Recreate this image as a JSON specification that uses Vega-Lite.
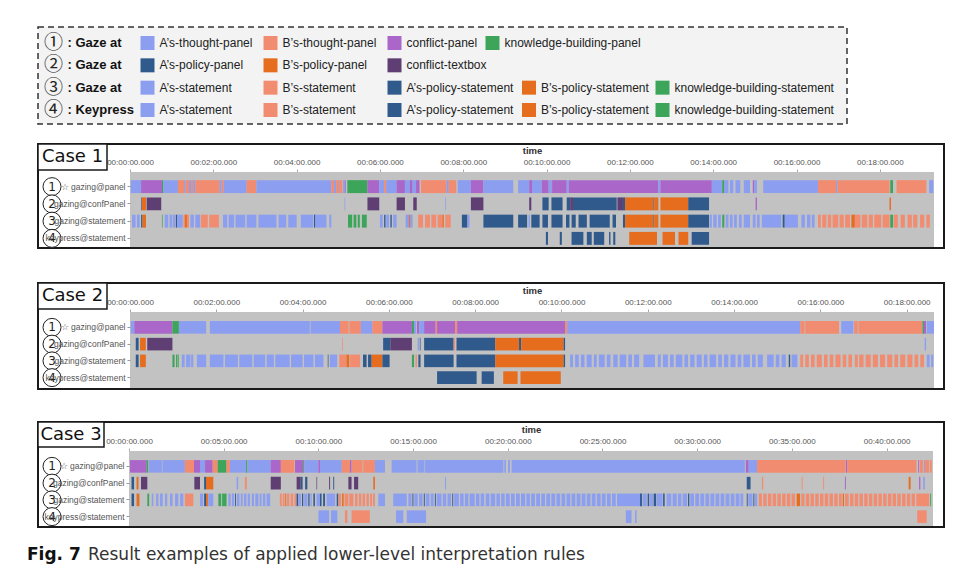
{
  "$schema": "https://vega.github.io/schema/vega-lite/v6.json",
  "background": "white",
  "padding": {"left": 27, "top": 26, "right": 2, "bottom": 2},
  "datasets": {
    "legend": [
      {"row": 1, "col": 0, "num": "①", "label": ": Gaze at"},
      {"row": 2, "col": 0, "num": "②", "label": ": Gaze at"},
      {"row": 3, "col": 0, "num": "③", "label": ": Gaze at"},
      {"row": 4, "col": 0, "num": "④", "label": ": Keypress"},
      {"row": 1, "col": 1, "c": "A", "label": "A’s-thought-panel"},
      {"row": 1, "col": 2, "c": "B", "label": "B’s-thought-panel"},
      {"row": 1, "col": 3, "c": "C", "label": "conflict-panel"},
      {"row": 1, "col": 4, "c": "K", "label": "knowledge-building-panel"},
      {"row": 2, "col": 1, "c": "AP", "label": "A’s-policy-panel"},
      {"row": 2, "col": 2, "c": "BP", "label": "B’s-policy-panel"},
      {"row": 2, "col": 3, "c": "CT", "label": "conflict-textbox"},
      {"row": 3, "col": 1, "c": "A", "label": "A’s-statement"},
      {"row": 3, "col": 2, "c": "B", "label": "B’s-statement"},
      {"row": 3, "col": 3, "c": "AP", "label": "A’s-policy-statement"},
      {"row": 3, "col": 4, "c": "BP", "label": "B’s-policy-statement"},
      {"row": 3, "col": 5, "c": "K", "label": "knowledge-building-statement"},
      {"row": 4, "col": 1, "c": "A", "label": "A’s-statement"},
      {"row": 4, "col": 2, "c": "B", "label": "B’s-statement"},
      {"row": 4, "col": 3, "c": "AP", "label": "A’s-policy-statement"},
      {"row": 4, "col": 4, "c": "BP", "label": "B’s-policy-statement"},
      {"row": 4, "col": 5, "c": "K", "label": "knowledge-building-statement"}
    ],
    "nums": [
      {"r": 1, "n": "1", "k": "o"},
      {"r": 2, "n": "2", "k": "o"},
      {"r": 3, "n": "3", "k": "o"},
      {"r": 4, "n": "4", "k": "o"}
    ],
    "c1": [
      {"r":1,"s":1,"e":16,"c":"A"},{"r":1,"s":16,"e":46,"c":"C"},{"r":1,"s":46,"e":48,"c":"K"},{"r":1,"s":48,"e":69,"c":"A"},{"r":1,"s":69,"e":78,"c":"B"},{"r":1,"s":78,"e":80,"c":"A"},{"r":1,"s":80,"e":85,"c":"B"},{"r":1,"s":85,"e":88,"c":"A"},{"r":1,"s":88,"e":91,"c":"B"},{"r":1,"s":91,"e":94,"c":"A"},{"r":1,"s":94,"e":129,"c":"B"},{"r":1,"s":129,"e":132,"c":"A"},{"r":1,"s":132,"e":135,"c":"B"},{"r":1,"s":135,"e":168,"c":"A"},{"r":1,"s":168,"e":182,"c":"B"},{"r":1,"s":182,"e":290,"c":"A"},{"r":1,"s":290,"e":294,"c":"B"},{"r":1,"s":294,"e":297,"c":"A"},{"r":1,"s":297,"e":301,"c":"B"},{"r":1,"s":301,"e":302,"c":"A"},{"r":1,"s":302,"e":306,"c":"B"},{"r":1,"s":307,"e":310,"c":"A"},{"r":1,"s":310,"e":311,"c":"C"},{"r":1,"s":313,"e":342,"c":"K"},{"r":1,"s":342,"e":359,"c":"C"},{"r":1,"s":359,"e":366,"c":"A"},{"r":1,"s":366,"e":369,"c":"B"},{"r":1,"s":369,"e":384,"c":"A"},{"r":1,"s":384,"e":396,"c":"C"},{"r":1,"s":396,"e":403,"c":"A"},{"r":1,"s":403,"e":407,"c":"C"},{"r":1,"s":407,"e":412,"c":"A"},{"r":1,"s":412,"e":417,"c":"C"},{"r":1,"s":419,"e":456,"c":"B"},{"r":1,"s":456,"e":459,"c":"A"},{"r":1,"s":459,"e":470,"c":"B"},{"r":1,"s":472,"e":491,"c":"A"},{"r":1,"s":491,"e":509,"c":"C"},{"r":1,"s":509,"e":552,"c":"A"},{"r":1,"s":559,"e":575,"c":"A"},{"r":1,"s":575,"e":579,"c":"C"},{"r":1,"s":579,"e":593,"c":"A"},{"r":1,"s":593,"e":603,"c":"C"},{"r":1,"s":603,"e":608,"c":"A"},{"r":1,"s":608,"e":629,"c":"C"},{"r":1,"s":629,"e":632,"c":"A"},{"r":1,"s":632,"e":761,"c":"C"},{"r":1,"s":761,"e":764,"c":"A"},{"r":1,"s":764,"e":838,"c":"C"},{"r":1,"s":838,"e":853,"c":"A"},{"r":1,"s":853,"e":856,"c":"K"},{"r":1,"s":856,"e":862,"c":"A"},{"r":1,"s":864,"e":869,"c":"A"},{"r":1,"s":872,"e":879,"c":"A"},{"r":1,"s":884,"e":893,"c":"A"},{"r":1,"s":897,"e":899,"c":"C"},{"r":1,"s":899,"e":903,"c":"A"},{"r":1,"s":912,"e":991,"c":"A"},{"r":1,"s":991,"e":1017,"c":"B"},{"r":1,"s":1017,"e":1019,"c":"A"},{"r":1,"s":1019,"e":1094,"c":"B"},{"r":1,"s":1095,"e":1099,"c":"K"},{"r":1,"s":1104,"e":1147,"c":"B"},{"r":1,"s":1151,"e":1157,"c":"A"},
      {"r":2,"s":16,"e":17,"c":"AP"},{"r":2,"s":17,"e":23,"c":"BP"},{"r":2,"s":24,"e":45,"c":"CT"},{"r":2,"s":309,"e":310,"c":"A"},{"r":2,"s":342,"e":359,"c":"CT"},{"r":2,"s":384,"e":396,"c":"CT"},{"r":2,"s":408,"e":413,"c":"CT"},{"r":2,"s":454,"e":455,"c":"A"},{"r":2,"s":491,"e":509,"c":"CT"},{"r":2,"s":575,"e":578,"c":"CT"},{"r":2,"s":594,"e":603,"c":"AP"},{"r":2,"s":607,"e":623,"c":"AP"},{"r":2,"s":629,"e":634,"c":"AP"},{"r":2,"s":634,"e":638,"c":"CT"},{"r":2,"s":638,"e":701,"c":"AP"},{"r":2,"s":702,"e":710,"c":"CT"},{"r":2,"s":710,"e":713,"c":"AP"},{"r":2,"s":713,"e":754,"c":"BP"},{"r":2,"s":754,"e":755,"c":"AP"},{"r":2,"s":755,"e":761,"c":"BP"},{"r":2,"s":764,"e":804,"c":"BP"},{"r":2,"s":804,"e":834,"c":"AP"},{"r":2,"s":901,"e":903,"c":"C"},{"r":2,"s":1094,"e":1096,"c":"BP"},
      {"r":3,"s":3,"e":8,"c":"A"},{"r":3,"s":10,"e":14,"c":"A"},{"r":3,"s":16,"e":18,"c":"AP"},{"r":3,"s":18,"e":23,"c":"BP"},{"r":3,"s":46,"e":47,"c":"K"},{"r":3,"s":50,"e":55,"c":"A"},{"r":3,"s":57,"e":61,"c":"A"},{"r":3,"s":62,"e":65,"c":"A"},{"r":3,"s":66,"e":68,"c":"AP"},{"r":3,"s":68,"e":76,"c":"A"},{"r":3,"s":77,"e":79,"c":"B"},{"r":3,"s":79,"e":82,"c":"BP"},{"r":3,"s":82,"e":85,"c":"B"},{"r":3,"s":87,"e":92,"c":"A"},{"r":3,"s":94,"e":101,"c":"A"},{"r":3,"s":102,"e":112,"c":"B"},{"r":3,"s":114,"e":128,"c":"B"},{"r":3,"s":134,"e":140,"c":"A"},{"r":3,"s":142,"e":150,"c":"A"},{"r":3,"s":152,"e":166,"c":"A"},{"r":3,"s":168,"e":182,"c":"A"},{"r":3,"s":185,"e":211,"c":"A"},{"r":3,"s":214,"e":225,"c":"A"},{"r":3,"s":228,"e":240,"c":"A"},{"r":3,"s":246,"e":264,"c":"A"},{"r":3,"s":265,"e":267,"c":"AP"},{"r":3,"s":267,"e":283,"c":"A"},{"r":3,"s":287,"e":290,"c":"A"},{"r":3,"s":314,"e":320,"c":"K"},{"r":3,"s":322,"e":326,"c":"K"},{"r":3,"s":328,"e":331,"c":"K"},{"r":3,"s":334,"e":341,"c":"K"},{"r":3,"s":360,"e":364,"c":"A"},{"r":3,"s":366,"e":368,"c":"AP"},{"r":3,"s":369,"e":373,"c":"A"},{"r":3,"s":375,"e":377,"c":"AP"},{"r":3,"s":379,"e":384,"c":"A"},{"r":3,"s":397,"e":402,"c":"A"},{"r":3,"s":402,"e":404,"c":"BP"},{"r":3,"s":404,"e":407,"c":"A"},{"r":3,"s":415,"e":422,"c":"B"},{"r":3,"s":425,"e":432,"c":"B"},{"r":3,"s":434,"e":441,"c":"B"},{"r":3,"s":443,"e":450,"c":"B"},{"r":3,"s":450,"e":452,"c":"BP"},{"r":3,"s":454,"e":462,"c":"B"},{"r":3,"s":478,"e":486,"c":"AP"},{"r":3,"s":486,"e":489,"c":"A"},{"r":3,"s":509,"e":552,"c":"AP"},{"r":3,"s":559,"e":572,"c":"AP"},{"r":3,"s":574,"e":576,"c":"A"},{"r":3,"s":578,"e":590,"c":"AP"},{"r":3,"s":594,"e":602,"c":"AP"},{"r":3,"s":607,"e":623,"c":"AP"},{"r":3,"s":628,"e":633,"c":"AP"},{"r":3,"s":636,"e":642,"c":"AP"},{"r":3,"s":646,"e":658,"c":"AP"},{"r":3,"s":662,"e":691,"c":"AP"},{"r":3,"s":695,"e":700,"c":"AP"},{"r":3,"s":710,"e":713,"c":"AP"},{"r":3,"s":713,"e":754,"c":"BP"},{"r":3,"s":754,"e":755,"c":"AP"},{"r":3,"s":755,"e":761,"c":"BP"},{"r":3,"s":764,"e":804,"c":"BP"},{"r":3,"s":804,"e":834,"c":"AP"},{"r":3,"s":835,"e":838,"c":"A"},{"r":3,"s":840,"e":845,"c":"A"},{"r":3,"s":847,"e":851,"c":"A"},{"r":3,"s":853,"e":856,"c":"K"},{"r":3,"s":858,"e":862,"c":"A"},{"r":3,"s":864,"e":868,"c":"A"},{"r":3,"s":870,"e":874,"c":"A"},{"r":3,"s":877,"e":881,"c":"A"},{"r":3,"s":884,"e":893,"c":"A"},{"r":3,"s":897,"e":901,"c":"A"},{"r":3,"s":903,"e":907,"c":"A"},{"r":3,"s":910,"e":938,"c":"A"},{"r":3,"s":940,"e":943,"c":"AP"},{"r":3,"s":943,"e":962,"c":"A"},{"r":3,"s":967,"e":972,"c":"A"},{"r":3,"s":975,"e":980,"c":"A"},{"r":3,"s":982,"e":986,"c":"A"},{"r":3,"s":991,"e":995,"c":"B"},{"r":3,"s":997,"e":1003,"c":"B"},{"r":3,"s":1005,"e":1010,"c":"B"},{"r":3,"s":1012,"e":1020,"c":"B"},{"r":3,"s":1022,"e":1028,"c":"B"},{"r":3,"s":1030,"e":1037,"c":"B"},{"r":3,"s":1039,"e":1044,"c":"BP"},{"r":3,"s":1044,"e":1052,"c":"B"},{"r":3,"s":1054,"e":1062,"c":"B"},{"r":3,"s":1064,"e":1070,"c":"B"},{"r":3,"s":1072,"e":1082,"c":"B"},{"r":3,"s":1084,"e":1094,"c":"B"},{"r":3,"s":1095,"e":1099,"c":"K"},{"r":3,"s":1100,"e":1106,"c":"B"},{"r":3,"s":1110,"e":1116,"c":"B"},{"r":3,"s":1120,"e":1126,"c":"B"},{"r":3,"s":1128,"e":1134,"c":"B"},{"r":3,"s":1138,"e":1144,"c":"B"},{"r":3,"s":1147,"e":1152,"c":"B"},
      {"r":4,"s":599,"e":602,"c":"AP"},{"r":4,"s":619,"e":622,"c":"AP"},{"r":4,"s":636,"e":653,"c":"AP"},{"r":4,"s":658,"e":665,"c":"AP"},{"r":4,"s":668,"e":683,"c":"AP"},{"r":4,"s":690,"e":692,"c":"AP"},{"r":4,"s":696,"e":699,"c":"AP"},{"r":4,"s":719,"e":759,"c":"BP"},{"r":4,"s":767,"e":785,"c":"BP"},{"r":4,"s":790,"e":804,"c":"BP"},{"r":4,"s":809,"e":834,"c":"AP"}
    ],
    "c2": [
      {"r":1,"s":1,"e":6,"c":"A"},{"r":1,"s":6,"e":59,"c":"C"},{"r":1,"s":59,"e":68,"c":"K"},{"r":1,"s":68,"e":106,"c":"A"},{"r":1,"s":111,"e":250,"c":"A"},{"r":1,"s":251,"e":292,"c":"A"},{"r":1,"s":292,"e":304,"c":"B"},{"r":1,"s":305,"e":321,"c":"B"},{"r":1,"s":321,"e":337,"c":"A"},{"r":1,"s":337,"e":351,"c":"B"},{"r":1,"s":351,"e":392,"c":"C"},{"r":1,"s":392,"e":395,"c":"K"},{"r":1,"s":395,"e":398,"c":"A"},{"r":1,"s":399,"e":402,"c":"C"},{"r":1,"s":402,"e":409,"c":"A"},{"r":1,"s":409,"e":425,"c":"C"},{"r":1,"s":425,"e":427,"c":"B"},{"r":1,"s":427,"e":452,"c":"C"},{"r":1,"s":452,"e":455,"c":"B"},{"r":1,"s":455,"e":605,"c":"C"},{"r":1,"s":605,"e":608,"c":"B"},{"r":1,"s":608,"e":932,"c":"A"},{"r":1,"s":932,"e":938,"c":"B"},{"r":1,"s":939,"e":986,"c":"B"},{"r":1,"s":989,"e":1006,"c":"A"},{"r":1,"s":1007,"e":1012,"c":"B"},{"r":1,"s":1013,"e":1102,"c":"B"},{"r":1,"s":1102,"e":1104,"c":"K"},{"r":1,"s":1104,"e":1107,"c":"C"},{"r":1,"s":1108,"e":1118,"c":"A"},
      {"r":2,"s":8,"e":12,"c":"AP"},{"r":2,"s":14,"e":22,"c":"BP"},{"r":2,"s":24,"e":59,"c":"CT"},{"r":2,"s":295,"e":296,"c":"B"},{"r":2,"s":352,"e":362,"c":"AP"},{"r":2,"s":362,"e":392,"c":"CT"},{"r":2,"s":400,"e":402,"c":"A"},{"r":2,"s":403,"e":404,"c":"AP"},{"r":2,"s":409,"e":450,"c":"AP"},{"r":2,"s":450,"e":452,"c":"B"},{"r":2,"s":454,"e":508,"c":"AP"},{"r":2,"s":508,"e":541,"c":"BP"},{"r":2,"s":541,"e":544,"c":"AP"},{"r":2,"s":544,"e":603,"c":"BP"},{"r":2,"s":603,"e":605,"c":"AP"},{"r":2,"s":1105,"e":1107,"c":"A"},
      {"r":3,"s":8,"e":12,"c":"AP"},{"r":3,"s":14,"e":22,"c":"BP"},{"r":3,"s":59,"e":62,"c":"K"},{"r":3,"s":64,"e":66,"c":"K"},{"r":3,"s":67,"e":68,"c":"K"},{"r":3,"s":72,"e":76,"c":"A"},{"r":3,"s":78,"e":84,"c":"A"},{"r":3,"s":85,"e":88,"c":"A"},{"r":3,"s":93,"e":106,"c":"A"},{"r":3,"s":111,"e":130,"c":"A"},{"r":3,"s":132,"e":150,"c":"A"},{"r":3,"s":152,"e":170,"c":"A"},{"r":3,"s":172,"e":188,"c":"A"},{"r":3,"s":190,"e":200,"c":"A"},{"r":3,"s":202,"e":222,"c":"A"},{"r":3,"s":224,"e":240,"c":"A"},{"r":3,"s":242,"e":255,"c":"A"},{"r":3,"s":257,"e":269,"c":"A"},{"r":3,"s":275,"e":276,"c":"AP"},{"r":3,"s":278,"e":288,"c":"A"},{"r":3,"s":291,"e":301,"c":"B"},{"r":3,"s":301,"e":305,"c":"BP"},{"r":3,"s":306,"e":320,"c":"B"},{"r":3,"s":324,"e":329,"c":"AP"},{"r":3,"s":331,"e":336,"c":"AP"},{"r":3,"s":336,"e":351,"c":"BP"},{"r":3,"s":351,"e":361,"c":"AP"},{"r":3,"s":392,"e":395,"c":"K"},{"r":3,"s":397,"e":399,"c":"B"},{"r":3,"s":401,"e":404,"c":"AP"},{"r":3,"s":409,"e":450,"c":"AP"},{"r":3,"s":454,"e":508,"c":"AP"},{"r":3,"s":508,"e":603,"c":"BP"},{"r":3,"s":603,"e":605,"c":"AP"},{"r":3,"s":612,"e":616,"c":"A"},{"r":3,"s":619,"e":624,"c":"A"},{"r":3,"s":627,"e":632,"c":"A"},{"r":3,"s":635,"e":642,"c":"A"},{"r":3,"s":645,"e":649,"c":"A"},{"r":3,"s":652,"e":660,"c":"A"},{"r":3,"s":663,"e":668,"c":"A"},{"r":3,"s":672,"e":678,"c":"A"},{"r":3,"s":681,"e":690,"c":"A"},{"r":3,"s":693,"e":698,"c":"A"},{"r":3,"s":701,"e":708,"c":"A"},{"r":3,"s":714,"e":730,"c":"A"},{"r":3,"s":734,"e":738,"c":"A"},{"r":3,"s":741,"e":748,"c":"A"},{"r":3,"s":751,"e":756,"c":"A"},{"r":3,"s":759,"e":768,"c":"A"},{"r":3,"s":771,"e":776,"c":"A"},{"r":3,"s":779,"e":785,"c":"A"},{"r":3,"s":788,"e":795,"c":"A"},{"r":3,"s":798,"e":803,"c":"A"},{"r":3,"s":806,"e":815,"c":"A"},{"r":3,"s":818,"e":823,"c":"A"},{"r":3,"s":826,"e":832,"c":"A"},{"r":3,"s":835,"e":842,"c":"A"},{"r":3,"s":845,"e":850,"c":"A"},{"r":3,"s":853,"e":862,"c":"A"},{"r":3,"s":865,"e":870,"c":"A"},{"r":3,"s":873,"e":880,"c":"A"},{"r":3,"s":886,"e":895,"c":"A"},{"r":3,"s":898,"e":903,"c":"A"},{"r":3,"s":906,"e":912,"c":"A"},{"r":3,"s":916,"e":918,"c":"AP"},{"r":3,"s":920,"e":928,"c":"A"},{"r":3,"s":932,"e":936,"c":"B"},{"r":3,"s":939,"e":944,"c":"B"},{"r":3,"s":947,"e":952,"c":"B"},{"r":3,"s":955,"e":962,"c":"B"},{"r":3,"s":965,"e":970,"c":"B"},{"r":3,"s":973,"e":978,"c":"B"},{"r":3,"s":981,"e":988,"c":"B"},{"r":3,"s":991,"e":996,"c":"B"},{"r":3,"s":999,"e":1004,"c":"B"},{"r":3,"s":1008,"e":1012,"c":"B"},{"r":3,"s":1014,"e":1020,"c":"B"},{"r":3,"s":1023,"e":1030,"c":"B"},{"r":3,"s":1033,"e":1040,"c":"B"},{"r":3,"s":1043,"e":1050,"c":"B"},{"r":3,"s":1053,"e":1060,"c":"B"},{"r":3,"s":1063,"e":1068,"c":"B"},{"r":3,"s":1071,"e":1078,"c":"B"},{"r":3,"s":1081,"e":1088,"c":"B"},{"r":3,"s":1091,"e":1096,"c":"B"},{"r":3,"s":1099,"e":1104,"c":"B"},{"r":3,"s":1108,"e":1112,"c":"A"},{"r":3,"s":1114,"e":1117,"c":"A"},
      {"r":4,"s":427,"e":482,"c":"AP"},{"r":4,"s":489,"e":506,"c":"AP"},{"r":4,"s":519,"e":539,"c":"BP"},{"r":4,"s":543,"e":599,"c":"BP"}
    ],
    "c3": [
      {"r":1,"s":3,"e":56,"c":"C"},{"r":1,"s":56,"e":61,"c":"K"},{"r":1,"s":63,"e":104,"c":"A"},{"r":1,"s":106,"e":177,"c":"A"},{"r":1,"s":177,"e":206,"c":"B"},{"r":1,"s":206,"e":225,"c":"C"},{"r":1,"s":225,"e":241,"c":"A"},{"r":1,"s":241,"e":265,"c":"C"},{"r":1,"s":265,"e":281,"c":"B"},{"r":1,"s":281,"e":309,"c":"K"},{"r":1,"s":309,"e":320,"c":"B"},{"r":1,"s":320,"e":371,"c":"A"},{"r":1,"s":371,"e":375,"c":"K"},{"r":1,"s":375,"e":449,"c":"A"},{"r":1,"s":449,"e":481,"c":"C"},{"r":1,"s":481,"e":524,"c":"B"},{"r":1,"s":526,"e":552,"c":"C"},{"r":1,"s":552,"e":555,"c":"K"},{"r":1,"s":555,"e":600,"c":"A"},{"r":1,"s":600,"e":605,"c":"C"},{"r":1,"s":605,"e":674,"c":"A"},{"r":1,"s":674,"e":700,"c":"B"},{"r":1,"s":700,"e":705,"c":"C"},{"r":1,"s":705,"e":740,"c":"B"},{"r":1,"s":742,"e":779,"c":"B"},{"r":1,"s":779,"e":811,"c":"A"},{"r":1,"s":832,"e":911,"c":"A"},{"r":1,"s":914,"e":936,"c":"A"},{"r":1,"s":938,"e":1186,"c":"A"},{"r":1,"s":1189,"e":1194,"c":"A"},{"r":1,"s":1201,"e":1207,"c":"A"},{"r":1,"s":1212,"e":1951,"c":"A"},{"r":1,"s":1954,"e":1963,"c":"C"},{"r":1,"s":1963,"e":1990,"c":"A"},{"r":1,"s":1990,"e":2270,"c":"B"},{"r":1,"s":2271,"e":2275,"c":"C"},{"r":1,"s":2275,"e":2495,"c":"B"},{"r":1,"s":2500,"e":2503,"c":"C"},{"r":1,"s":2505,"e":2515,"c":"B"},{"r":1,"s":2518,"e":2520,"c":"C"},{"r":1,"s":2522,"e":2535,"c":"B"},{"r":1,"s":2537,"e":2543,"c":"B"},
      {"r":2,"s":8,"e":16,"c":"AP"},{"r":2,"s":24,"e":30,"c":"BP"},{"r":2,"s":38,"e":58,"c":"CT"},{"r":2,"s":207,"e":225,"c":"CT"},{"r":2,"s":238,"e":244,"c":"AP"},{"r":2,"s":244,"e":267,"c":"BP"},{"r":2,"s":341,"e":346,"c":"A"},{"r":2,"s":367,"e":373,"c":"B"},{"r":2,"s":449,"e":481,"c":"CT"},{"r":2,"s":531,"e":544,"c":"CT"},{"r":2,"s":544,"e":550,"c":"AP"},{"r":2,"s":558,"e":565,"c":"AP"},{"r":2,"s":594,"e":596,"c":"CT"},{"r":2,"s":634,"e":637,"c":"CT"},{"r":2,"s":647,"e":650,"c":"AP"},{"r":2,"s":695,"e":705,"c":"CT"},{"r":2,"s":713,"e":726,"c":"CT"},{"r":2,"s":774,"e":779,"c":"BP"},{"r":2,"s":1001,"e":1004,"c":"A"},{"r":2,"s":1957,"e":1969,"c":"AP"},{"r":2,"s":2005,"e":2009,"c":"B"},{"r":2,"s":2131,"e":2134,"c":"B"},{"r":2,"s":2199,"e":2202,"c":"B"},{"r":2,"s":2268,"e":2271,"c":"C"},{"r":2,"s":2470,"e":2476,"c":"BP"},{"r":2,"s":2503,"e":2507,"c":"C"},{"r":2,"s":2516,"e":2521,"c":"A"},
      {"r":3,"s":8,"e":16,"c":"AP"},{"r":3,"s":24,"e":33,"c":"BP"},{"r":3,"s":58,"e":64,"c":"K"},{"r":3,"s":72,"e":77,"c":"A"},{"r":3,"s":86,"e":93,"c":"A"},{"r":3,"s":98,"e":107,"c":"A"},{"r":3,"s":114,"e":121,"c":"A"},{"r":3,"s":130,"e":138,"c":"A"},{"r":3,"s":146,"e":156,"c":"A"},{"r":3,"s":162,"e":172,"c":"A"},{"r":3,"s":177,"e":204,"c":"B"},{"r":3,"s":225,"e":235,"c":"A"},{"r":3,"s":238,"e":244,"c":"AP"},{"r":3,"s":244,"e":250,"c":"BP"},{"r":3,"s":251,"e":267,"c":"A"},{"r":3,"s":283,"e":292,"c":"K"},{"r":3,"s":295,"e":309,"c":"K"},{"r":3,"s":315,"e":322,"c":"A"},{"r":3,"s":326,"e":333,"c":"A"},{"r":3,"s":336,"e":339,"c":"AP"},{"r":3,"s":342,"e":350,"c":"A"},{"r":3,"s":354,"e":360,"c":"A"},{"r":3,"s":364,"e":372,"c":"A"},{"r":3,"s":376,"e":383,"c":"A"},{"r":3,"s":389,"e":396,"c":"A"},{"r":3,"s":400,"e":410,"c":"A"},{"r":3,"s":414,"e":420,"c":"A"},{"r":3,"s":424,"e":432,"c":"A"},{"r":3,"s":436,"e":447,"c":"A"},{"r":3,"s":478,"e":484,"c":"B"},{"r":3,"s":487,"e":493,"c":"B"},{"r":3,"s":495,"e":498,"c":"BP"},{"r":3,"s":500,"e":508,"c":"B"},{"r":3,"s":512,"e":520,"c":"B"},{"r":3,"s":524,"e":531,"c":"B"},{"r":3,"s":531,"e":536,"c":"AP"},{"r":3,"s":536,"e":545,"c":"A"},{"r":3,"s":548,"e":552,"c":"AP"},{"r":3,"s":555,"e":565,"c":"A"},{"r":3,"s":568,"e":572,"c":"AP"},{"r":3,"s":575,"e":579,"c":"A"},{"r":3,"s":584,"e":589,"c":"AP"},{"r":3,"s":594,"e":605,"c":"A"},{"r":3,"s":605,"e":610,"c":"AP"},{"r":3,"s":615,"e":621,"c":"AP"},{"r":3,"s":626,"e":653,"c":"A"},{"r":3,"s":658,"e":663,"c":"AP"},{"r":3,"s":664,"e":672,"c":"B"},{"r":3,"s":675,"e":680,"c":"BP"},{"r":3,"s":683,"e":695,"c":"B"},{"r":3,"s":698,"e":711,"c":"B"},{"r":3,"s":716,"e":724,"c":"B"},{"r":3,"s":728,"e":736,"c":"B"},{"r":3,"s":740,"e":748,"c":"B"},{"r":3,"s":752,"e":760,"c":"B"},{"r":3,"s":764,"e":770,"c":"B"},{"r":3,"s":773,"e":779,"c":"B"},{"r":3,"s":790,"e":811,"c":"A"},{"r":3,"s":837,"e":880,"c":"A"},{"r":3,"s":885,"e":895,"c":"A"},{"r":3,"s":898,"e":901,"c":"AP"},{"r":3,"s":904,"e":915,"c":"A"},{"r":3,"s":919,"e":930,"c":"A"},{"r":3,"s":934,"e":937,"c":"AP"},{"r":3,"s":940,"e":952,"c":"A"},{"r":3,"s":956,"e":965,"c":"A"},{"r":3,"s":969,"e":972,"c":"AP"},{"r":3,"s":975,"e":990,"c":"A"},{"r":3,"s":994,"e":1005,"c":"A"},{"r":3,"s":1009,"e":1020,"c":"A"},{"r":3,"s":1024,"e":1027,"c":"AP"},{"r":3,"s":1030,"e":1045,"c":"A"},{"r":3,"s":1049,"e":1060,"c":"A"},{"r":3,"s":1064,"e":1075,"c":"A"},{"r":3,"s":1079,"e":1095,"c":"A"},{"r":3,"s":1099,"e":1110,"c":"A"},{"r":3,"s":1114,"e":1125,"c":"A"},{"r":3,"s":1130,"e":1142,"c":"A"},{"r":3,"s":1146,"e":1160,"c":"A"},{"r":3,"s":1164,"e":1175,"c":"A"},{"r":3,"s":1179,"e":1190,"c":"A"},{"r":3,"s":1194,"e":1206,"c":"A"},{"r":3,"s":1210,"e":1222,"c":"A"},{"r":3,"s":1226,"e":1238,"c":"A"},{"r":3,"s":1242,"e":1255,"c":"A"},{"r":3,"s":1259,"e":1270,"c":"A"},{"r":3,"s":1274,"e":1286,"c":"A"},{"r":3,"s":1290,"e":1302,"c":"A"},{"r":3,"s":1306,"e":1318,"c":"A"},{"r":3,"s":1322,"e":1334,"c":"A"},{"r":3,"s":1338,"e":1350,"c":"A"},{"r":3,"s":1354,"e":1366,"c":"A"},{"r":3,"s":1370,"e":1382,"c":"A"},{"r":3,"s":1386,"e":1398,"c":"A"},{"r":3,"s":1402,"e":1414,"c":"A"},{"r":3,"s":1418,"e":1430,"c":"A"},{"r":3,"s":1434,"e":1446,"c":"A"},{"r":3,"s":1450,"e":1462,"c":"A"},{"r":3,"s":1466,"e":1478,"c":"A"},{"r":3,"s":1482,"e":1494,"c":"A"},{"r":3,"s":1498,"e":1510,"c":"A"},{"r":3,"s":1514,"e":1526,"c":"A"},{"r":3,"s":1530,"e":1542,"c":"A"},{"r":3,"s":1546,"e":1619,"c":"A"},{"r":3,"s":1619,"e":1625,"c":"AP"},{"r":3,"s":1627,"e":1640,"c":"A"},{"r":3,"s":1643,"e":1648,"c":"AP"},{"r":3,"s":1650,"e":1660,"c":"A"},{"r":3,"s":1662,"e":1670,"c":"AP"},{"r":3,"s":1672,"e":1690,"c":"A"},{"r":3,"s":1692,"e":1697,"c":"AP"},{"r":3,"s":1703,"e":1718,"c":"A"},{"r":3,"s":1722,"e":1735,"c":"A"},{"r":3,"s":1739,"e":1750,"c":"A"},{"r":3,"s":1754,"e":1768,"c":"A"},{"r":3,"s":1771,"e":1775,"c":"AP"},{"r":3,"s":1778,"e":1790,"c":"A"},{"r":3,"s":1794,"e":1806,"c":"A"},{"r":3,"s":1810,"e":1822,"c":"A"},{"r":3,"s":1826,"e":1838,"c":"A"},{"r":3,"s":1842,"e":1854,"c":"A"},{"r":3,"s":1858,"e":1870,"c":"A"},{"r":3,"s":1874,"e":1886,"c":"A"},{"r":3,"s":1890,"e":1902,"c":"A"},{"r":3,"s":1906,"e":1918,"c":"A"},{"r":3,"s":1922,"e":1934,"c":"A"},{"r":3,"s":1937,"e":1946,"c":"A"},{"r":3,"s":1957,"e":1960,"c":"AP"},{"r":3,"s":1962,"e":1975,"c":"A"},{"r":3,"s":1978,"e":1981,"c":"AP"},{"r":3,"s":1983,"e":1990,"c":"A"},{"r":3,"s":1995,"e":2005,"c":"B"},{"r":3,"s":2009,"e":2020,"c":"B"},{"r":3,"s":2024,"e":2035,"c":"B"},{"r":3,"s":2039,"e":2050,"c":"B"},{"r":3,"s":2054,"e":2065,"c":"B"},{"r":3,"s":2069,"e":2080,"c":"B"},{"r":3,"s":2084,"e":2095,"c":"B"},{"r":3,"s":2099,"e":2110,"c":"B"},{"r":3,"s":2115,"e":2126,"c":"BP"},{"r":3,"s":2130,"e":2140,"c":"B"},{"r":3,"s":2144,"e":2155,"c":"B"},{"r":3,"s":2159,"e":2170,"c":"B"},{"r":3,"s":2174,"e":2185,"c":"B"},{"r":3,"s":2189,"e":2200,"c":"B"},{"r":3,"s":2204,"e":2215,"c":"B"},{"r":3,"s":2219,"e":2230,"c":"B"},{"r":3,"s":2234,"e":2245,"c":"B"},{"r":3,"s":2249,"e":2258,"c":"B"},{"r":3,"s":2261,"e":2265,"c":"BP"},{"r":3,"s":2268,"e":2280,"c":"B"},{"r":3,"s":2284,"e":2295,"c":"B"},{"r":3,"s":2299,"e":2310,"c":"B"},{"r":3,"s":2314,"e":2325,"c":"B"},{"r":3,"s":2329,"e":2340,"c":"B"},{"r":3,"s":2344,"e":2355,"c":"B"},{"r":3,"s":2359,"e":2370,"c":"B"},{"r":3,"s":2374,"e":2385,"c":"B"},{"r":3,"s":2389,"e":2400,"c":"B"},{"r":3,"s":2404,"e":2415,"c":"B"},{"r":3,"s":2419,"e":2430,"c":"B"},{"r":3,"s":2434,"e":2445,"c":"B"},{"r":3,"s":2449,"e":2460,"c":"B"},{"r":3,"s":2464,"e":2475,"c":"B"},{"r":3,"s":2479,"e":2490,"c":"B"},{"r":3,"s":2494,"e":2535,"c":"B"},{"r":3,"s":2538,"e":2541,"c":"K"},
      {"r":4,"s":600,"e":634,"c":"A"},{"r":4,"s":640,"e":660,"c":"A"},{"r":4,"s":684,"e":692,"c":"B"},{"r":4,"s":705,"e":763,"c":"B"},{"r":4,"s":846,"e":869,"c":"A"},{"r":4,"s":880,"e":941,"c":"A"},{"r":4,"s":1574,"e":1592,"c":"A"},{"r":4,"s":1603,"e":1608,"c":"A"},{"r":4,"s":2497,"e":2527,"c":"B"}
    ]
  },
  "vconcat": [
    {
      "width": 809,
      "height": 97,
      "view": {"fill": "#f3f3f3", "stroke": "#333333", "strokeDash": [6, 4], "strokeWidth": 1.5},
      "data": {"name": "legend"},
      "encoding": {
        "y": {"field": "row", "type": "ordinal", "scale": {"type": "point", "range": [16, 83], "padding": 0}, "axis": null}
      },
      "layer": [
        {
          "transform": [{"filter": "datum.row <= 2 || datum.col == 0"}],
          "encoding": {
            "x": {"field": "col", "type": "quantitative", "scale": {"domain": [0, 1, 2, 3, 4], "range": [15.5, 109.5, 232.5, 356.5, 454.5], "nice": false, "zero": false}, "axis": null}
          },
          "layer": [
            {
              "transform": [{"filter": "datum.col > 0"}],
              "mark": {"type": "square", "size": 196, "opacity": 1},
              "encoding": {"color": {"field": "c", "type": "nominal", "scale": {"domain": ["A", "B", "C", "K", "AP", "BP", "CT"], "range": ["#8b9ef0", "#f28c70", "#aa66c8", "#3ca55a", "#305a8c", "#e66c1e", "#5f3e73"]}, "legend": null}}
            },
            {
              "transform": [{"filter": "datum.col > 0"}],
              "mark": {"type": "text", "align": "left", "dx": 12, "font": "Liberation Sans", "fontSize": 12, "color": "#222222"},
              "encoding": {"text": {"field": "label"}}
            },
            {
              "transform": [{"filter": "datum.col == 0"}],
              "mark": {"type": "text", "align": "center", "font": "Noto Sans CJK JP", "fontSize": 19, "color": "#222222"},
              "encoding": {"text": {"field": "num"}}
            },
            {
              "transform": [{"filter": "datum.col == 0"}],
              "mark": {"type": "text", "align": "left", "dx": 14, "font": "Liberation Sans", "fontSize": 13, "fontWeight": "bold", "color": "#111111"},
              "encoding": {"text": {"field": "label"}}
            }
          ]
        },
        {
          "transform": [{"filter": "datum.row >= 3 && datum.col > 0"}],
          "encoding": {
            "x": {"field": "col", "type": "quantitative", "scale": {"domain": [1, 2, 3, 4, 5], "range": [109.5, 232.5, 356.5, 491, 624.5], "nice": false, "zero": false}, "axis": null}
          },
          "layer": [
            {
              "mark": {"type": "square", "size": 196, "opacity": 1},
              "encoding": {"color": {"field": "c", "type": "nominal", "scale": {"domain": ["A", "B", "C", "K", "AP", "BP", "CT"], "range": ["#8b9ef0", "#f28c70", "#aa66c8", "#3ca55a", "#305a8c", "#e66c1e", "#5f3e73"]}, "legend": null}}
            },
            {
              "mark": {"type": "text", "align": "left", "dx": 12, "font": "Liberation Sans", "fontSize": 12, "color": "#222222"},
              "encoding": {"text": {"field": "label"}}
            }
          ]
        }
      ],
      "resolve": {"scale": {"x": "independent"}}
    },
    {
      "spacing": 30,
      "vconcat": [
        {
          "width": 906,
          "height": 104,
          "view": {"fill": "white", "stroke": "#1a1a1a", "strokeWidth": 2},
          "layer": [
            {
              "data": {"values": [{"k": "bg"}]},
              "mark": {"type": "rect", "fill": "#c2c2c2"},
              "encoding": {
                "x": {"field": "k", "type": "nominal", "scale": {"type": "band", "range": [92, 896], "paddingInner": 0, "paddingOuter": 0}, "axis": null},
                "y": {"field": "k", "type": "nominal", "scale": {"type": "band", "range": [28, 103], "paddingInner": 0, "paddingOuter": 0}, "axis": null}
              }
            },
            {
              "data": {"name": "c1"},
              "mark": {"type": "rect"},
              "encoding": {
                "x": {"field": "s", "type": "quantitative", "scale": {"domain": [0, 1158], "range": [92, 896], "nice": false, "zero": false},
                  "axis": {"orient": "top", "offset": -28, "title": "time", "titleFont": "Liberation Sans", "titleFontSize": 9.5, "titleFontWeight": "bold", "titleColor": "#333333", "titlePadding": 3, "values": [0, 120, 240, 360, 480, 600, 720, 840, 960, 1080], "labelExpr": "utcFormat(datum.value * 1000, '%H:%M:%S.%L')", "labelFont": "Liberation Sans", "labelFontSize": 8, "labelColor": "#555555", "labelPadding": 3, "labelFlush": false, "labelOverlap": false, "tickSize": 3, "tickColor": "#aaaaaa", "domain": false, "grid": false}},
                "x2": {"field": "e"},
                "y": {"field": "r", "type": "ordinal", "scale": {"domain": [1, 2, 3, 4], "range": [34, 103], "paddingInner": 0.25, "paddingOuter": 0.125},
                  "axis": {"orient": "left", "offset": -92, "title": null, "labelExpr": "datum.value == 1 ? '☆ gazing@panel' : datum.value == 2 ? 'gazing@confPanel' : datum.value == 3 ? 'gazing@statement' : 'keypress@statement'", "labelFont": "Liberation Sans", "labelFontSize": 8.5, "labelColor": "#555555", "labelPadding": 2, "tickSize": 3, "tickColor": "#999999", "domain": false, "grid": false}},
                "color": {"field": "c", "type": "nominal", "scale": {"domain": ["A", "B", "C", "K", "AP", "BP", "CT"], "range": ["#8b9ef0", "#f28c70", "#aa66c8", "#3ca55a", "#305a8c", "#e66c1e", "#5f3e73"]}, "legend": null}
              }
            },
            {
              "data": {"name": "nums"},
              "encoding": {
                "x": {"field": "k", "type": "nominal", "scale": {"type": "band", "range": [5, 23]}, "axis": null},
                "y": {"field": "r", "type": "ordinal", "scale": {"domain": [1, 2, 3, 4], "range": [34, 103], "paddingInner": 0.25, "paddingOuter": 0.125}, "axis": null}
              },
              "layer": [
                {"mark": {"type": "point", "shape": "circle", "size": 324, "filled": true, "fill": "white", "stroke": "#222222", "strokeWidth": 1, "opacity": 1}},
                {"mark": {"type": "text", "font": "DejaVu Sans", "fontSize": 12, "color": "#222222"}, "encoding": {"text": {"field": "n"}}}
              ]
            },
            {
              "data": {"values": [{"k": "Case 1"}]},
              "encoding": {
                "x": {"field": "k", "type": "nominal", "scale": {"type": "band", "range": [0, 69], "paddingInner": 0, "paddingOuter": 0}, "axis": null},
                "y": {"field": "k", "type": "nominal", "scale": {"type": "band", "range": [0, 26], "paddingInner": 0, "paddingOuter": 0}, "axis": null}
              },
              "layer": [
                {"mark": {"type": "rect", "fill": "white", "stroke": "#1a1a1a", "strokeWidth": 1.5}},
                {"mark": {"type": "text", "font": "DejaVu Sans", "fontSize": 18, "color": "#111111"}, "encoding": {"text": {"field": "k"}}}
              ]
            }
          ],
          "resolve": {"scale": {"x": "independent", "y": "independent"}}
        },
        {
          "width": 906,
          "height": 106,
          "view": {"fill": "white", "stroke": "#1a1a1a", "strokeWidth": 2},
          "layer": [
            {
              "data": {"values": [{"k": "bg"}]},
              "mark": {"type": "rect", "fill": "#c2c2c2"},
              "encoding": {
                "x": {"field": "k", "type": "nominal", "scale": {"type": "band", "range": [92, 896], "paddingInner": 0, "paddingOuter": 0}, "axis": null},
                "y": {"field": "k", "type": "nominal", "scale": {"type": "band", "range": [29, 105], "paddingInner": 0, "paddingOuter": 0}, "axis": null}
              }
            },
            {
              "data": {"name": "c2"},
              "mark": {"type": "rect"},
              "encoding": {
                "x": {"field": "s", "type": "quantitative", "scale": {"domain": [0, 1118], "range": [92, 896], "nice": false, "zero": false},
                  "axis": {"orient": "top", "offset": -29, "title": "time", "titleFont": "Liberation Sans", "titleFontSize": 9.5, "titleFontWeight": "bold", "titleColor": "#333333", "titlePadding": 3, "values": [0, 120, 240, 360, 480, 600, 720, 840, 960, 1080], "labelExpr": "utcFormat(datum.value * 1000, '%H:%M:%S.%L')", "labelFont": "Liberation Sans", "labelFontSize": 8, "labelColor": "#555555", "labelPadding": 3, "labelFlush": false, "labelOverlap": false, "tickSize": 3, "tickColor": "#aaaaaa", "domain": false, "grid": false}},
                "x2": {"field": "e"},
                "y": {"field": "r", "type": "ordinal", "scale": {"domain": [1, 2, 3, 4], "range": [36, 103], "paddingInner": 0.25, "paddingOuter": 0.125},
                  "axis": {"orient": "left", "offset": -92, "title": null, "labelExpr": "datum.value == 1 ? '☆ gazing@panel' : datum.value == 2 ? 'gazing@confPanel' : datum.value == 3 ? 'gazing@statement' : 'keypress@statement'", "labelFont": "Liberation Sans", "labelFontSize": 8.5, "labelColor": "#555555", "labelPadding": 2, "tickSize": 3, "tickColor": "#999999", "domain": false, "grid": false}},
                "color": {"field": "c", "type": "nominal", "scale": {"domain": ["A", "B", "C", "K", "AP", "BP", "CT"], "range": ["#8b9ef0", "#f28c70", "#aa66c8", "#3ca55a", "#305a8c", "#e66c1e", "#5f3e73"]}, "legend": null}
              }
            },
            {
              "data": {"name": "nums"},
              "encoding": {
                "x": {"field": "k", "type": "nominal", "scale": {"type": "band", "range": [5, 23]}, "axis": null},
                "y": {"field": "r", "type": "ordinal", "scale": {"domain": [1, 2, 3, 4], "range": [36, 103], "paddingInner": 0.25, "paddingOuter": 0.125}, "axis": null}
              },
              "layer": [
                {"mark": {"type": "point", "shape": "circle", "size": 324, "filled": true, "fill": "white", "stroke": "#222222", "strokeWidth": 1, "opacity": 1}},
                {"mark": {"type": "text", "font": "DejaVu Sans", "fontSize": 12, "color": "#222222"}, "encoding": {"text": {"field": "n"}}}
              ]
            },
            {
              "data": {"values": [{"k": "Case 2"}]},
              "encoding": {
                "x": {"field": "k", "type": "nominal", "scale": {"type": "band", "range": [0, 69], "paddingInner": 0, "paddingOuter": 0}, "axis": null},
                "y": {"field": "k", "type": "nominal", "scale": {"type": "band", "range": [0, 26], "paddingInner": 0, "paddingOuter": 0}, "axis": null}
              },
              "layer": [
                {"mark": {"type": "rect", "fill": "white", "stroke": "#1a1a1a", "strokeWidth": 1.5}},
                {"mark": {"type": "text", "font": "DejaVu Sans", "fontSize": 18, "color": "#111111"}, "encoding": {"text": {"field": "k"}}}
              ]
            }
          ],
          "resolve": {"scale": {"x": "independent", "y": "independent"}}
        },
        {
          "width": 906,
          "height": 105,
          "view": {"fill": "white", "stroke": "#1a1a1a", "strokeWidth": 2},
          "layer": [
            {
              "data": {"values": [{"k": "bg"}]},
              "mark": {"type": "rect", "fill": "#c2c2c2"},
              "encoding": {
                "x": {"field": "k", "type": "nominal", "scale": {"type": "band", "range": [91, 895], "paddingInner": 0, "paddingOuter": 0}, "axis": null},
                "y": {"field": "k", "type": "nominal", "scale": {"type": "band", "range": [29, 104], "paddingInner": 0, "paddingOuter": 0}, "axis": null}
              }
            },
            {
              "data": {"name": "c3"},
              "mark": {"type": "rect"},
              "encoding": {
                "x": {"field": "s", "type": "quantitative", "scale": {"domain": [0, 2547], "range": [91, 895], "nice": false, "zero": false},
                  "axis": {"orient": "top", "offset": -29, "title": "time", "titleFont": "Liberation Sans", "titleFontSize": 9.5, "titleFontWeight": "bold", "titleColor": "#333333", "titlePadding": 3, "values": [0, 300, 600, 900, 1200, 1500, 1800, 2100, 2400], "labelExpr": "utcFormat(datum.value * 1000, '%H:%M:%S.%L')", "labelFont": "Liberation Sans", "labelFontSize": 8, "labelColor": "#555555", "labelPadding": 3, "labelFlush": false, "labelOverlap": false, "tickSize": 3, "tickColor": "#aaaaaa", "domain": false, "grid": false}},
                "x2": {"field": "e"},
                "y": {"field": "r", "type": "ordinal", "scale": {"domain": [1, 2, 3, 4], "range": [36, 103], "paddingInner": 0.25, "paddingOuter": 0.125},
                  "axis": {"orient": "left", "offset": -91, "title": null, "labelExpr": "datum.value == 1 ? '☆ gazing@panel' : datum.value == 2 ? 'gazing@confPanel' : datum.value == 3 ? 'gazing@statement' : 'keypress@statement'", "labelFont": "Liberation Sans", "labelFontSize": 8.5, "labelColor": "#555555", "labelPadding": 2, "tickSize": 3, "tickColor": "#999999", "domain": false, "grid": false}},
                "color": {"field": "c", "type": "nominal", "scale": {"domain": ["A", "B", "C", "K", "AP", "BP", "CT"], "range": ["#8b9ef0", "#f28c70", "#aa66c8", "#3ca55a", "#305a8c", "#e66c1e", "#5f3e73"]}, "legend": null}
              }
            },
            {
              "data": {"name": "nums"},
              "encoding": {
                "x": {"field": "k", "type": "nominal", "scale": {"type": "band", "range": [5, 23]}, "axis": null},
                "y": {"field": "r", "type": "ordinal", "scale": {"domain": [1, 2, 3, 4], "range": [36, 103], "paddingInner": 0.25, "paddingOuter": 0.125}, "axis": null}
              },
              "layer": [
                {"mark": {"type": "point", "shape": "circle", "size": 324, "filled": true, "fill": "white", "stroke": "#222222", "strokeWidth": 1, "opacity": 1}},
                {"mark": {"type": "text", "font": "DejaVu Sans", "fontSize": 12, "color": "#222222"}, "encoding": {"text": {"field": "n"}}}
              ]
            },
            {
              "data": {"values": [{"k": "Case 3"}]},
              "encoding": {
                "x": {"field": "k", "type": "nominal", "scale": {"type": "band", "range": [0, 66], "paddingInner": 0, "paddingOuter": 0}, "axis": null},
                "y": {"field": "k", "type": "nominal", "scale": {"type": "band", "range": [0, 25], "paddingInner": 0, "paddingOuter": 0}, "axis": null}
              },
              "layer": [
                {"mark": {"type": "rect", "fill": "white", "stroke": "#1a1a1a", "strokeWidth": 1.5}},
                {"mark": {"type": "text", "font": "DejaVu Sans", "fontSize": 18, "color": "#111111"}, "encoding": {"text": {"field": "k"}}}
              ]
            }
          ],
          "resolve": {"scale": {"x": "independent", "y": "independent"}}
        }
      ]
    },
    {
      "width": 600,
      "height": 10,
      "view": {"stroke": null, "fill": null},
      "data": {"values": [{"p": "Fig. 7", "w": "b"}, {"p": "Result examples of applied lower-level interpretation rules", "w": "n"}]},
      "encoding": {
        "x": {"field": "p", "type": "nominal", "sort": null, "bandPosition": 0, "scale": {"type": "band", "range": [-11, 111], "paddingInner": 0, "paddingOuter": 0}, "axis": null}
      },
      "layer": [
        {
          "transform": [{"filter": "datum.w == 'b'"}],
          "mark": {"type": "text", "align": "left", "baseline": "middle", "font": "DejaVu Sans", "fontSize": 17, "fontWeight": "bold", "color": "#111111"},
          "encoding": {"text": {"field": "p"}}
        },
        {
          "transform": [{"filter": "datum.w == 'n'"}],
          "mark": {"type": "text", "align": "left", "baseline": "middle", "font": "DejaVu Sans", "fontSize": 17, "color": "#333333"},
          "encoding": {"text": {"field": "p"}}
        }
      ]
    }
  ],
  "spacing": 17
}
